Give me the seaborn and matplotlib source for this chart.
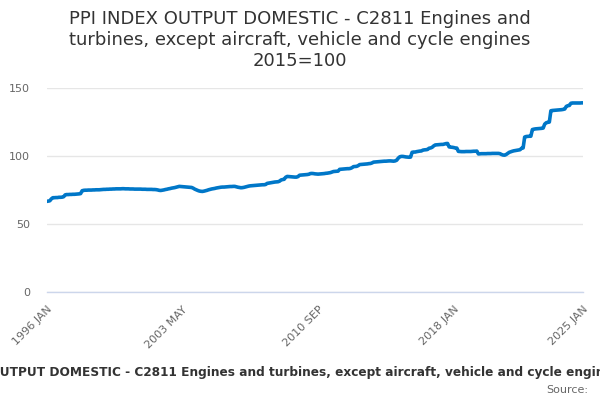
import numpy as np
import pandas as pd
import matplotlib
matplotlib.use("Agg")
import matplotlib.pyplot as plt
import seaborn as sns

sns.set_style("white")
plt.rcParams['font.family'] = ['DejaVu Sans']

# monthly index values, 1996 JAN .. 2025 JAN
v1996 = [66.8, 67.0, 67.2, 68.6, 69.5, 69.5, 69.6, 69.6, 69.8, 69.8, 69.9, 70.2]
v1997 = [71.6, 71.8, 71.8, 71.9, 71.9, 72.0, 72.0, 72.1, 72.2, 72.3, 72.5, 74.6]
v1998 = [74.9, 75.0, 75.0, 75.1, 75.1, 75.1, 75.2, 75.2, 75.3, 75.3, 75.3, 75.4]
v1999 = [75.5, 75.6, 75.6, 75.7, 75.7, 75.8, 75.8, 75.9, 75.9, 76.0, 76.0, 76.0]
v2000 = [76.0, 76.1, 76.1, 76.0, 76.0, 76.0, 75.9, 75.9, 75.9, 75.8, 75.8, 75.8]
v2001 = [75.8, 75.8, 75.7, 75.7, 75.7, 75.6, 75.6, 75.6, 75.6, 75.5, 75.5, 75.4]
v2002 = [75.2, 74.9, 74.8, 75.0, 75.2, 75.5, 75.7, 76.0, 76.2, 76.5, 76.7, 76.9]
v2003 = [77.2, 77.5, 77.8, 77.7, 77.6, 77.5, 77.4, 77.3, 77.2, 77.1, 77.0, 76.5]
v2004 = [75.8, 75.3, 74.8, 74.4, 74.2, 74.1, 74.3, 74.6, 74.9, 75.3, 75.6, 75.9]
v2005 = [76.1, 76.3, 76.6, 76.8, 77.0, 77.2, 77.3, 77.3, 77.4, 77.5, 77.6, 77.7]
v2006 = [77.7, 77.8, 77.8, 77.5, 77.2, 77.0, 76.8, 76.9, 77.1, 77.4, 77.7, 78.0]
v2007 = [78.2, 78.3, 78.4, 78.5, 78.6, 78.7, 78.8, 78.9, 79.0, 79.0, 79.2, 80.0]
v2008 = [80.2, 80.4, 80.6, 80.8, 81.0, 81.1, 81.2, 81.6, 82.5, 82.8, 83.0, 84.5]
v2009 = [85.1, 85.0, 84.9, 84.8, 84.7, 84.6, 84.6, 85.0, 86.0, 86.1, 86.2, 86.3]
v2010 = [86.4, 86.5, 86.7, 87.2, 87.3, 87.2, 87.0, 86.9, 86.8, 86.9, 87.0, 87.1]
v2011 = [87.2, 87.4, 87.5, 87.7, 87.9, 88.3, 88.7, 88.8, 88.9, 89.0, 90.3, 90.4]
v2012 = [90.5, 90.6, 90.7, 90.8, 90.8, 91.0, 91.5, 92.3, 92.4, 92.5, 93.0, 93.8]
v2013 = [93.9, 94.0, 94.1, 94.2, 94.3, 94.5, 94.6, 95.0, 95.6, 95.7, 95.8, 95.9]
v2014 = [96.0, 96.1, 96.2, 96.3, 96.3, 96.4, 96.5, 96.5, 96.4, 96.3, 96.5, 97.0]
v2015 = [98.5, 99.5, 99.8, 99.8, 99.6, 99.4, 99.3, 99.2, 99.3, 102.8, 103.0, 103.0]
v2016 = [103.3, 103.5, 103.7, 103.8, 104.4, 104.6, 104.7, 104.9, 105.8, 106.0, 106.5, 107.5]
v2017 = [108.2, 108.3, 108.4, 108.5, 108.6, 108.6, 108.9, 109.2, 109.3, 106.8, 106.6, 106.5]
v2018 = [106.3, 106.0, 105.9, 103.5, 103.4, 103.3, 103.3, 103.3, 103.4, 103.4, 103.4, 103.4]
v2019 = [103.5, 103.6, 103.6, 103.7, 101.6, 101.7, 101.8, 101.8, 101.8, 101.8, 101.9, 101.9]
v2020 = [101.9, 102.0, 102.0, 102.0, 102.0, 102.0, 101.8, 101.2, 100.8, 100.7, 101.2, 102.0]
v2021 = [102.8, 103.2, 103.6, 103.9, 104.1, 104.3, 104.5, 104.7, 105.8, 106.0, 114.0, 114.4]
v2022 = [114.5, 114.6, 114.6, 119.5, 119.8, 120.0, 120.1, 120.2, 120.3, 120.4, 120.6, 123.5]
v2023 = [124.5, 124.8, 125.0, 133.3, 133.5, 133.6, 133.7, 133.8, 133.9, 134.0, 134.1, 134.3]
v2024 = [134.6, 136.5, 137.0, 137.2, 138.8, 139.0, 139.0, 139.0, 139.0, 139.0, 139.0, 139.1]
v2025 = [139.1]

values = (v1996 + v1997 + v1998 + v1999 + v2000 + v2001 + v2002 + v2003 + v2004
          + v2005 + v2006 + v2007 + v2008 + v2009 + v2010 + v2011 + v2012 + v2013
          + v2014 + v2015 + v2016 + v2017 + v2018 + v2019 + v2020 + v2021 + v2022
          + v2023 + v2024 + v2025)

periods = pd.period_range("1996-01", "2025-01", freq="M")
period_labels = [p.strftime("%Y %b").upper() for p in periods]

df = pd.DataFrame({"pos": np.arange(len(values)), "period": period_labels, "value": values})

title = ("PPI INDEX OUTPUT DOMESTIC - C2811 Engines and\n"
         "turbines, except aircraft, vehicle and cycle engines\n2015=100")
series_name = "PPI INDEX OUTPUT DOMESTIC - C2811 Engines and turbines, except aircraft, vehicle and cycle engines"

fig = plt.figure(figsize=(6, 4), dpi=100)
ax = fig.add_axes([0.0778, 0.269, 0.8943, 0.511])

sns.lineplot(x="pos", y="value", data=df, ax=ax, color="#0077c8", linewidth=2.6)

ax.set_xlim(0, len(values) - 1)
ax.set_ylim(0, 150)
ax.set_yticks([0, 50, 100, 150])
ax.yaxis.grid(True, color="#e6e6e6", linewidth=1)
ax.xaxis.grid(False)
for s in ["top", "right", "left"]:
    ax.spines[s].set_visible(False)
ax.spines["bottom"].set_color("#ccd6eb")
ax.spines["bottom"].set_linewidth(1)

tick_pos = list(range(0, len(values) - 1, 22)) + [len(values) - 1]
label_pos = [0, 88, 176, 264, len(values) - 1]
ax.set_xticks(tick_pos)
ax.set_xticklabels([df["period"][i] if i in label_pos else "" for i in tick_pos],
                   rotation=45, ha="right", rotation_mode="anchor")
ax.tick_params(axis="x", colors="#ccd6eb", length=7, width=1, pad=1.5, labelcolor="#666666", labelsize=8)
ax.tick_params(axis="y", length=0, pad=12, labelcolor="#666666", labelsize=8)
ax.set_xlabel("")
ax.set_ylabel("")

fig.text(0.5, 0.975, title, ha="center", va="top", fontsize=13, color="#333333", linespacing=1.2)
fig.text(0.447, 0.068, series_name, ha="center", va="center", fontsize=8.7, color="#333333", fontweight="bold")
fig.text(0.98, 0.025, "Source:", ha="right", va="center", fontsize=8, color="#666666")

fig.savefig("out.png", dpi=100)
